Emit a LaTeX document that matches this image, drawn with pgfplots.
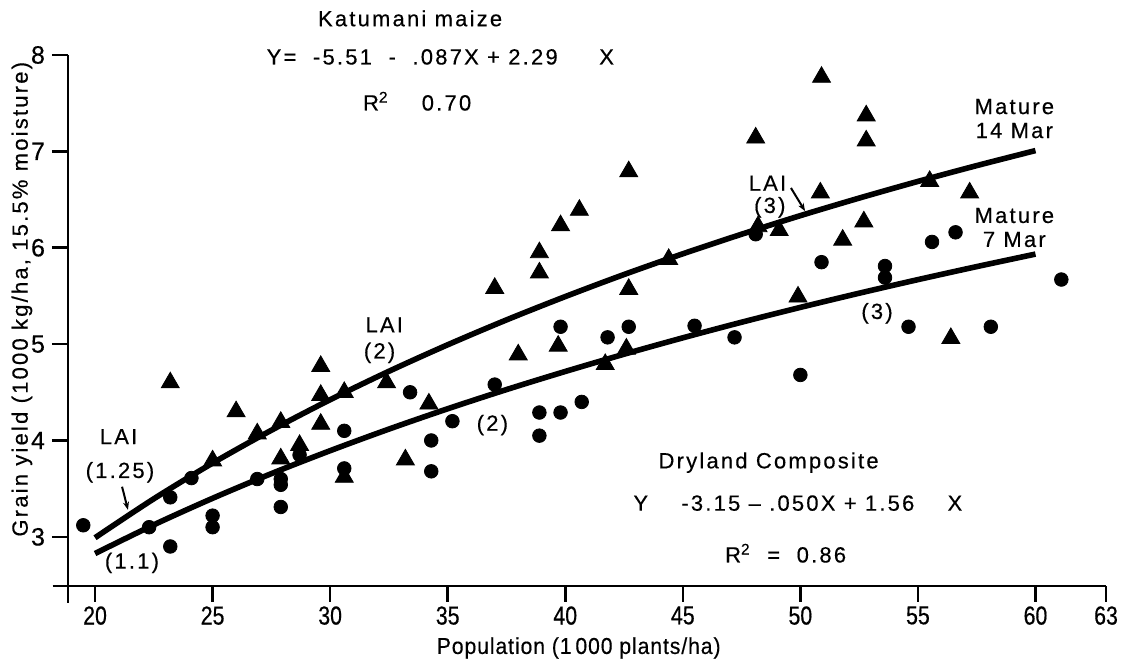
\documentclass[border=0pt]{standalone}
\usepackage{fontspec}
\setmainfont[FakeBold=0.4]{Liberation Sans}
\newfontfamily\narrowfont[FakeStretch=0.82, FakeBold=0.5]{Liberation Sans}
\newfontfamily\spacedfont[LetterSpace=10, FakeBold=0.4]{Liberation Sans}
\newfontfamily\labelfont[LetterSpace=4, FakeStretch=0.92, FakeBold=0.4]{Liberation Sans}
\usepackage{pgfplots}
\pgfplotsset{compat=1.18}
\usetikzlibrary{arrows.meta}

\begin{document}
\begin{tikzpicture}
\path[use as bounding box] (-34pt,-38pt) rectangle (530pt,293pt);
\begin{axis}[
  at={(0,0)}, anchor=south west,
  scale only axis, width=519pt, height=265.5pt,
  xmin=18.85, xmax=63, ymin=2.49, ymax=8,
  enlargelimits=false,
  axis lines=left,
  axis line style={line width=1.3pt, -},
  clip=false,
  xtick={20,25,30,35,40,45,50,55,60,63},
  ytick={3,4,5,6,7,8},
  tick style={line width=1.3pt, black},
  tick align=outside,
  major tick length=8pt,
  /pgf/number format/assume math mode=true,
  xticklabel style={font=\narrowfont\fontsize{13}{14}\selectfont, yshift=-1pt, inner sep=1pt},
  yticklabel style={font=\fontsize{12.5}{14}\selectfont},
  xlabel={Population (1\,000 plants/ha)},
  xlabel style={font=\labelfont\fontsize{11.5}{12}\selectfont, at={(rel axis cs:0.492,0)}, anchor=center, yshift=-31pt, inner sep=0pt},
  ylabel={Grain yield (1000 kg/ha, 15.5\% moisture)},
  ylabel style={font=\spacedfont\fontsize{11}{12}\selectfont, at={(rel axis cs:0,0.54)}, anchor=center, yshift=23pt},
]
% Katumani maize (triangles)
\addplot[only marks, mark=triangle*, mark size=5.2pt, black] coordinates {
(23.2,4.6) (25.0,3.79) (26.0,4.3) (26.9,4.07) (27.9,4.19) (27.9,3.81)
(28.7,3.95) (29.6,4.77) (29.6,4.47) (29.6,4.17) (30.6,4.5) (30.6,3.62)
(32.4,4.6) (33.2,3.8) (34.2,4.38) (37.0,5.58) (38.0,4.89) (38.9,5.95)
(38.9,5.74) (39.8,6.23) (39.7,4.98) (40.6,6.39) (41.7,4.79) (42.6,4.95)
(42.7,6.79) (42.7,5.57) (44.4,5.88) (48.1,7.14) (48.2,6.22) (49.1,6.18)
(49.9,5.49) (50.9,7.77) (50.85,6.57) (51.8,6.08) (52.8,7.37) (52.8,7.11)
(52.7,6.27) (55.5,6.69) (56.4,5.06) (57.2,6.57)
};
% Dryland Composite (circles)
\addplot[only marks, mark=*, mark size=3.4pt, black] coordinates {
(19.5,3.12) (22.3,3.1) (23.2,2.9) (23.2,3.41) (24.1,3.61) (25.0,3.22)
(25.0,3.1) (26.9,3.6) (27.9,3.6) (27.9,3.54) (27.9,3.31) (28.7,3.85)
(30.6,4.1) (30.6,3.71) (33.4,4.5) (34.3,4.0) (34.3,3.68) (35.2,4.2)
(37.0,4.58) (38.9,4.29) (38.9,4.05) (39.8,4.29) (39.8,5.18) (40.7,4.4)
(41.8,5.07) (42.7,5.18) (45.5,5.19) (47.2,5.07) (48.1,6.14) (50.0,4.68)
(50.9,5.85) (53.6,5.81) (53.6,5.69) (54.6,5.18) (55.6,6.06) (56.6,6.16)
(58.1,5.18) (61.1,5.67)
};
% fitted curve, Katumani maize
\addplot[black, line width=2.8pt, smooth] coordinates {
(20,2.991) (22.5,3.395) (25,3.765) (27.5,4.106) (30,4.423) (32.5,4.718)
(35,4.993) (37.5,5.251) (40,5.493) (42.5,5.722) (45,5.937) (47.5,6.140)
(50,6.333) (52.5,6.515) (55,6.688) (57.5,6.852) (60,7.008)
};
% fitted curve, Dryland Composite
\addplot[black, line width=2.8pt, smooth] coordinates {
(20,2.827) (22.5,3.125) (25,3.400) (27.5,3.656) (30,3.894) (32.5,4.118)
(35,4.329) (37.5,4.528) (40,4.716) (42.5,4.895) (45,5.065) (47.5,5.227)
(50,5.381) (52.5,5.528) (55,5.669) (57.5,5.804) (60,5.934)
};
% axis extensions
\draw[line width=1.3pt] (axis cs:18.2,2.49) -- (axis cs:18.85,2.49);
\draw[line width=1.3pt] (axis cs:18.85,2.49) -- (axis cs:18.85,2.31);
% annotations
\begin{scope}[every node/.style={font=\spacedfont\fontsize{11}{12}\selectfont}]
\node at (axis cs:33.4,8.38) {Katumani maize};
\node[anchor=west] at (axis cs:27.0,7.98) {Y=\ \ -5.51\ \ -\ \ .087X + 2.29\ \ \ \ \ X};
\node[anchor=west] at (axis cs:31.1,7.52) {R\textsuperscript{2}\ \ \ \ 0.70};
\node at (axis cs:48.65,3.77) {Dryland Composite};
\node[anchor=west] at (axis cs:42.6,3.35) {Y\ \ \ \ -3.15 – .050X + 1.56\ \ \ \ X};
\node[anchor=west] at (axis cs:46.5,2.83) {R\textsuperscript{2}\ \ = \ 0.86};
\node at (axis cs:21.0,4.04) {LAI};
\node at (axis cs:21.06,3.67) {(1.25)};
\node at (axis cs:21.57,2.73) {(1.1)};
\node at (axis cs:32.3,5.2) {LAI};
\node at (axis cs:32.1,4.91) {(2)};
\node at (axis cs:36.9,4.16) {(2)};
\node at (axis cs:48.6,6.67) {LAI};
\node at (axis cs:48.7,6.42) {(3)};
\node at (axis cs:53.26,5.32) {(3)};
\node[align=center, font=\spacedfont\fontsize{11}{12}\selectfont] at (axis cs:59.1,7.34) {Mature\\14 Mar};
\node[align=center, font=\spacedfont\fontsize{11}{12}\selectfont] at (axis cs:59.1,6.21) {Mature\\7 Mar};
\end{scope}
\draw[line width=1pt, -{Stealth[length=4pt]}] (axis cs:21.15,3.52) -- (axis cs:21.4,3.28);
\draw[line width=1pt, -{Stealth[length=4pt]}] (axis cs:49.6,6.62) -- (axis cs:50.2,6.38);
\end{axis}
\end{tikzpicture}
\end{document}
